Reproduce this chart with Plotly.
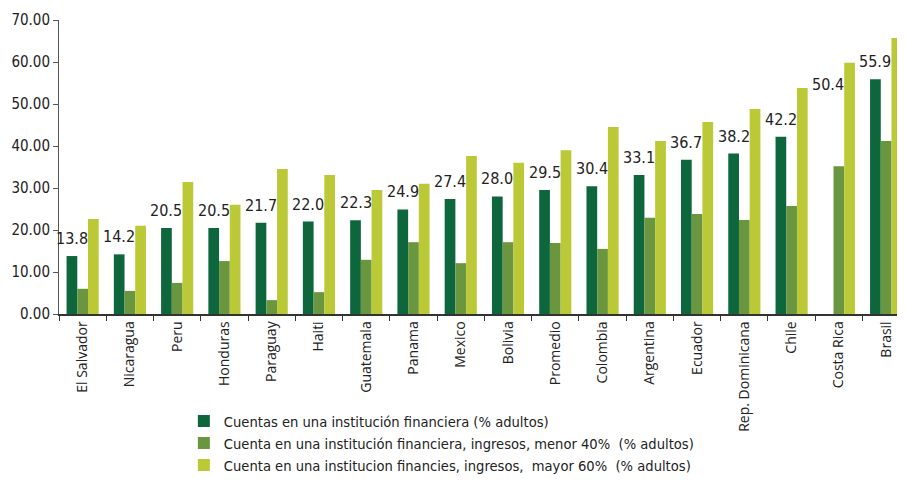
import plotly.graph_objects as go

paises = ["El Salvador", "Nicaragua", "Peru", "Honduras", "Paraguay", "Haiti",
          "Guatemala", "Panama", "Mexico", "Bolivia", "Promedio", "Colombia",
          "Argentina", "Ecuador", "Rep. Dominicana", "Chile", "Costa Rica", "Brasil"]

cuentas = [13.8, 14.2, 20.5, 20.5, 21.7, 22.0, 22.3, 24.9, 27.4, 28.0, 29.5, 30.4,
           33.1, 36.7, 38.2, 42.2, 50.4, 55.9]
menor40 = [6.0, 5.5, 7.4, 12.6, 3.3, 5.2, 12.9, 17.1, 12.1, 17.1, 16.9, 15.5,
           22.9, 23.8, 22.4, 25.7, 35.2, 41.2]
mayor60 = [22.6, 21.0, 31.4, 26.0, 34.5, 33.1, 29.5, 31.0, 37.6, 36.0, 39.0, 44.5,
           41.2, 45.7, 48.8, 53.8, 59.8, 65.7]

# Costa Rica: no bar in the original, only the label
sin_barra = ["Costa Rica"]

c_oscuro = "#0e673c"
c_medio = "#6a963f"
c_claro = "#bac935"

barras1 = [None if p in sin_barra else v for p, v in zip(paises, cuentas)]

# page body adds 8px all round, so the figure is 16px smaller than the window
W, H = 889, 466
L, T, B = 51, 12, 160
plot_w = W - L
cat_w = plot_w / 17.73
bargap = 0.32
bar_w = cat_w * (1 - bargap) / 3

fig = go.Figure()
fig.add_trace(go.Bar(
    x=paises, y=barras1, name="Cuentas en una institución financiera (% adultos)",
    marker=dict(color=c_oscuro, line_width=0),
))
fig.add_trace(go.Bar(
    x=paises, y=menor40, name="Cuenta en una institución financiera, ingresos, menor 40%  (% adultos)",
    marker=dict(color=c_medio, line_width=0),
))
fig.add_trace(go.Bar(
    x=paises, y=mayor60, name="Cuenta en una institucion financies, ingresos,  mayor 60%  (% adultos)",
    marker=dict(color=c_claro, line_width=0),
))

for p, v in zip(paises, cuentas):
    fig.add_annotation(x=p, y=v, text=f"{v:.1f}", showarrow=False,
                       xanchor="center", yanchor="bottom", xshift=-bar_w, yshift=6,
                       font=dict(size=16, color="#222222", family="DejaVu Sans Condensed"))

fig.update_layout(
    width=W, height=H,
    margin=dict(l=L, r=0, t=T, b=B, autoexpand=False),
    plot_bgcolor="white", paper_bgcolor="white",
    barmode="group", bargap=bargap, bargroupgap=0,
    font=dict(family="DejaVu Sans", color="#222222"),
    showlegend=True,
    legend=dict(x=0.149, y=-0.568, xanchor="left", yanchor="bottom",
                font=dict(size=14.6, family="DejaVu Sans Condensed"),
                itemwidth=30, traceorder="normal"),
)
fig.update_xaxes(
    range=[-0.5, 17.23], tickangle=-90, tickfont=dict(size=14, family="Open Sans"),
    showline=True, linecolor="#333333", linewidth=1.5, automargin=False,
    ticks="outside", tickson="boundaries", ticklen=5, tickcolor="#333333",
)
fig.update_yaxes(
    range=[0, 70], dtick=10, tickformat=".2f", automargin=False,
    tickfont=dict(size=15, family="DejaVu Sans Condensed"),
    showline=True, linecolor="#555555", linewidth=1,
    ticks="outside", ticklen=5, tickcolor="#555555", showgrid=False, zeroline=False,
)

fig.write_html("out.html")
